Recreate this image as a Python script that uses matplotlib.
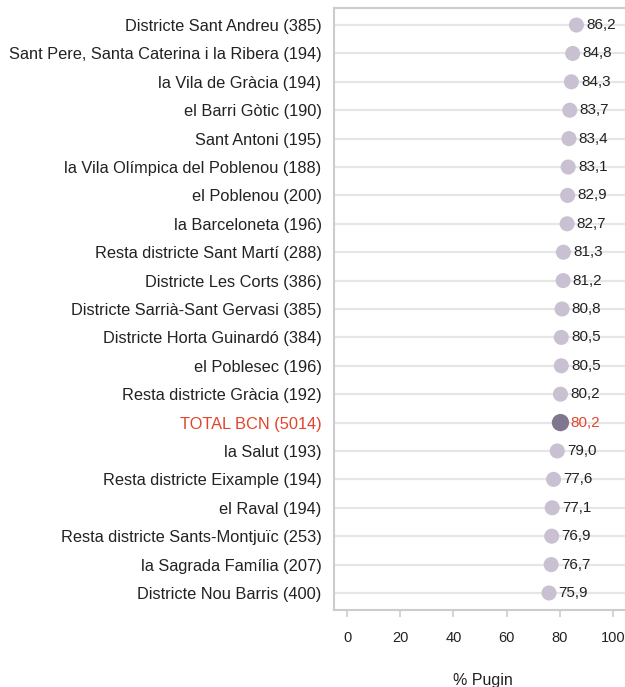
import numpy as np
import matplotlib
matplotlib.use('Agg')
import matplotlib.pyplot as plt

plt.rcParams['font.family'] = ['Liberation Sans', 'DejaVu Sans']

labels = [
    'Districte Sant Andreu (385)',
    'Sant Pere, Santa Caterina i la Ribera (194)',
    'la Vila de Gràcia (194)',
    'el Barri Gòtic (190)',
    'Sant Antoni (195)',
    'la Vila Olímpica del Poblenou (188)',
    'el Poblenou (200)',
    'la Barceloneta (196)',
    'Resta districte Sant Martí (288)',
    'Districte Les Corts (386)',
    'Districte Sarrià-Sant Gervasi (385)',
    'Districte Horta Guinardó (384)',
    'el Poblesec (196)',
    'Resta districte Gràcia (192)',
    'TOTAL BCN (5014)',
    'la Salut (193)',
    'Resta districte Eixample (194)',
    'el Raval (194)',
    'Resta districte Sants-Montjuïc (253)',
    'la Sagrada Família (207)',
    'Districte Nou Barris (400)',
]
values = [86.2, 84.8, 84.3, 83.7, 83.4, 83.1, 82.9, 82.7, 81.3, 81.2,
          80.8, 80.5, 80.5, 80.2, 80.2, 79.0, 77.6, 77.1, 76.9, 76.7, 75.9]
highlight = 'TOTAL BCN (5014)'
xticks = [0, 20, 40, 60, 80, 100]

dot_col = '#c9c1d2'
hl_col = '#80778f'
red = '#e2442c'
grid_col = '#e6e6e6'
spine_col = '#cccccc'

fig = plt.figure(figsize=(6.25, 6.87), dpi=100)
ax = fig.add_axes([334 / 625, 1 - 610 / 687, 1 - 334 / 625 + 0.01, 602 / 687])

y = np.arange(len(labels))
for yi in y:
    ax.axhline(yi, color=grid_col, lw=1.6, zorder=0)

cols = [hl_col if l == highlight else dot_col for l in labels]
sizes = [155 if l == highlight else 118 for l in labels]
ax.scatter(values, y, s=sizes, c=cols, edgecolors='none', zorder=3)

for yi, v, l in zip(y, values, labels):
    is_hl = l == highlight
    ax.annotate(f'{v:.1f}'.replace('.', ','), (v, yi), xytext=(7, 0),
                textcoords='offset points', va='center', ha='left',
                fontsize=11, color=red if is_hl else '#222222', zorder=4)

ax.set_yticks(y)
ax.set_yticklabels(labels, fontsize=11.75)
for t in ax.get_yticklabels():
    if t.get_text() == highlight:
        t.set_color(red)
    else:
        t.set_color('#222222')
ax.tick_params(axis='y', length=0, pad=9)

ax.set_xlim(-4.9, 106.8)
ax.set_ylim(len(labels) - 0.4, -0.6)
ax.set_xticks(xticks)
ax.set_xticklabels([str(t) for t in xticks], fontsize=10.5, color='#222222')
ax.tick_params(axis='x', length=5, color=spine_col, width=1.2, pad=10)
ax.set_xlabel('% Pugin', fontsize=11.5, color='#222222', labelpad=20)

for s in ['left', 'top', 'bottom']:
    ax.spines[s].set_color(spine_col)
    ax.spines[s].set_linewidth(1.5)
ax.spines['right'].set_visible(False)

fig.savefig('out.png', dpi=100)
